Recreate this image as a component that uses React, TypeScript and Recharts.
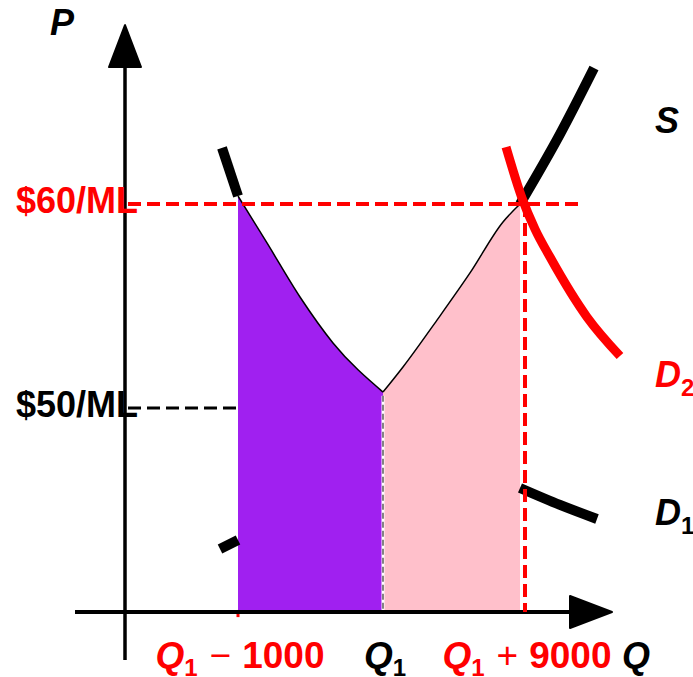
import {
  Area,
  ComposedChart,
  Line,
  ReferenceDot,
  ReferenceLine,
  XAxis,
  YAxis,
} from "recharts";

// schematic quantity units (y-axis at 0) and price in $/ML (x-axis at 40)
const D1_Q = [19.4, 22.6, 28.4, 35, 41.6, 51.6, 79, 87, 94.4];
const D1_P = [62.75, 60.39, 58.09, 55.44, 53.19, 50.78, 46.08, 45.25, 44.56];

const S_Q = [19, 22.6, 51.6, 55.6, 62.4, 69, 75.6, 79, 87, 93.8];
const S_P = [43.09, 43.53, 50.78, 52.01, 54.31, 56.62, 59.12, 60.0, 63.43, 66.67];

const D2_Q = [76.2, 79.4, 82, 85, 92.4, 99];
const D2_P = [62.79, 60.29, 58.77, 57.4, 54.46, 52.55];

const Q_LOW = 22.6; // Q1 - 1000
const Q1 = 51.6;
const Q_S60 = 79; // supply reaches $60
const Q_HIGH = 80; // Q1 + 9000
const P_HIGH = 60;
const P_LOW = 50;
const P_ORIGIN = 40;

const X_DOMAIN = [-25, 113.6];
const Y_DOMAIN = [36.814, 70];

const RED = "#ff0000";
const PURPLE = "#a020f0";
const PINK = "#ffc0cb";
const FONT = '"Liberation Sans", Arial, Helvetica, sans-serif';

const toPoints = (qs: number[], ps: number[]) => qs.map((q, i) => ({ q, p: ps[i] }));

const d1 = toPoints(D1_Q, D1_P);
const supply = toPoints(S_Q, S_P);
const d2 = toPoints(D2_Q, D2_P);

// thick pieces of the curves that stay outside the shading
const d1Left = d1.filter((d) => d.q <= Q_LOW);
const d1Right = d1.filter((d) => d.q >= Q_S60);
const sLeft = supply.filter((d) => d.q <= Q_LOW);
const sRight = supply.filter((d) => d.q >= Q_S60);

// shaded regions under each curve
const lossArea = d1.filter((d) => d.q >= Q_LOW && d.q <= Q1);
const gainArea = supply.filter((d) => d.q >= Q1 && d.q <= Q_S60);

const d1End = d1[d1.length - 1];
const sEnd = supply[supply.length - 1];
const d2End = d2[d2.length - 1];

const textProps = {
  fontFamily: FONT,
  fontSize: 36,
  fontWeight: "bold" as const,
};

function qLabel(color: string, op?: string, amount?: string) {
  return (props: any) => (
    <text x={props.cx + 2} y={props.cy + 56} textAnchor="middle" fill={color} {...textProps} fontSize={37}>
      <tspan fontStyle="italic">Q</tspan>
      <tspan fontSize={24} dy={8}>1</tspan>
      {op && (
        <tspan dy={-8} dx={12} fontWeight="normal">
          {op}
        </tspan>
      )}
      {amount && <tspan dx={11}>{amount}</tspan>}
    </text>
  );
}

function curveLabel(name: string, sub: string | null, color: string, dx: number, dy: number) {
  return (props: any) => (
    <text x={props.cx + dx} y={props.cy + dy} fill={color} {...textProps}>
      <tspan fontStyle="italic">{name}</tspan>
      {sub && (
        <tspan fontSize={24} dy={9}>
          {sub}
        </tspan>
      )}
    </text>
  );
}

function priceLabel(text: string, color: string) {
  return (props: any) => (
    <text x={props.cx + 13} y={props.cy + 9} textAnchor="end" fill={color} {...textProps}>
      {text}
    </text>
  );
}

const thick = (color: string, width: number) => ({
  type: "monotone" as const,
  stroke: color,
  strokeWidth: width,
  dot: false,
  activeDot: false,
  isAnimationActive: false,
});

export default function App() {
  return (
    <div style={{ position: "absolute", left: 0, top: 0, background: "#fff" }}>
      <ComposedChart
        width={693}
        height={677}
        margin={{ top: 0, right: 0, bottom: 0, left: 0 }}
        style={{ fontFamily: FONT }}
      >
        <XAxis type="number" dataKey="q" domain={X_DOMAIN} allowDataOverflow hide />
        <YAxis type="number" dataKey="p" domain={Y_DOMAIN} allowDataOverflow hide />

        {/* shaded regions, outlined along the curve */}
        <Area
          data={lossArea}
          dataKey="p"
          type="monotone"
          baseValue={P_ORIGIN}
          fill={PURPLE}
          fillOpacity={1}
          stroke="#000"
          strokeWidth={1.5}
          dot={false}
          activeDot={false}
          isAnimationActive={false}
        />
        <Area
          data={gainArea}
          dataKey="p"
          type="monotone"
          baseValue={P_ORIGIN}
          fill={PINK}
          fillOpacity={1}
          stroke="#000"
          strokeWidth={1.5}
          dot={false}
          activeDot={false}
          isAnimationActive={false}
        />

        {/* supply and original demand */}
        <Line data={sLeft} dataKey="p" {...thick("#000", 10)} />
        <Line data={sRight} dataKey="p" {...thick("#000", 10)} />
        <Line data={d1Left} dataKey="p" {...thick("#000", 10)} />
        <Line data={d1Right} dataKey="p" {...thick("#000", 10)} />

        {/* new demand */}
        <Line data={d2} dataKey="p" {...thick(RED, 9)} />

        {/* small red tick at Q1 - 1000 */}
        <ReferenceLine
          segment={[{ x: Q_LOW, y: 40.1 }, { x: Q_LOW, y: 39.75 }]}
          stroke={RED}
          strokeWidth={3}
        />

        {/* axes */}
        <ReferenceLine
          segment={[{ x: 0, y: 37.65 }, { x: 0, y: 66.9 }]}
          stroke="#000"
          strokeWidth={3.5}
        />
        <ReferenceLine
          segment={[{ x: -10, y: P_ORIGIN }, { x: 89.6, y: P_ORIGIN }]}
          stroke="#000"
          strokeWidth={4}
        />
        <ReferenceDot
          x={0}
          y={68.77}
          r={0}
          shape={(props: any) => (
            <polygon
              points={`${props.cx},${props.cy} ${props.cx - 16},${props.cy + 42} ${props.cx + 16},${props.cy + 42}`}
              fill="#000"
              stroke="#000"
              strokeWidth={2}
              strokeLinejoin="round"
            />
          )}
        />
        <ReferenceDot
          x={97.4}
          y={P_ORIGIN}
          r={0}
          shape={(props: any) => (
            <polygon
              points={`${props.cx},${props.cy} ${props.cx - 42},${props.cy - 16} ${props.cx - 42},${props.cy + 16}`}
              fill="#000"
              stroke="#000"
              strokeWidth={2}
              strokeLinejoin="round"
            />
          )}
        />

        {/* guide lines */}
        <ReferenceLine
          segment={[{ x: 0.6, y: P_LOW }, { x: Q_LOW - 0.3, y: P_LOW }]}
          stroke="#000"
          strokeWidth={3}
          strokeDasharray="13 6"
        />
        <ReferenceLine
          segment={[{ x: Q_HIGH, y: P_HIGH }, { x: Q_HIGH, y: P_ORIGIN }]}
          stroke={RED}
          strokeWidth={4}
          strokeDasharray="13 6"
        />
        <ReferenceLine
          segment={[{ x: Q1, y: 50.6 }, { x: Q1, y: 40.1 }]}
          stroke="#fff"
          strokeWidth={3}
        />
        <ReferenceLine
          segment={[{ x: Q1, y: 50.6 }, { x: Q1, y: 40.1 }]}
          stroke="#333"
          strokeWidth={1.2}
          strokeDasharray="6 3"
        />
        <ReferenceLine
          segment={[{ x: 0.6, y: P_HIGH }, { x: 91, y: P_HIGH }]}
          stroke={RED}
          strokeWidth={4}
          strokeDasharray="13 6"
        />

        {/* labels */}
        <ReferenceDot x={0} y={68.77} r={0} shape={curveLabel("P", null, "#000", -75, 10)} />
        <ReferenceDot x={97.4} y={P_ORIGIN} r={0} shape={curveLabel("Q", null, "#000", 10, 56)} />
        <ReferenceDot x={0} y={P_HIGH} r={0} shape={priceLabel("$60/ML", RED)} />
        <ReferenceDot x={0} y={P_LOW} r={0} shape={priceLabel("$50/ML", "#000")} />
        <ReferenceDot x={Q_LOW} y={P_ORIGIN} r={0} shape={qLabel(RED, "\u2212", "1000")} />
        <ReferenceDot x={Q1} y={P_ORIGIN} r={0} shape={qLabel("#000")} />
        <ReferenceDot x={Q_HIGH} y={P_ORIGIN} r={0} shape={qLabel(RED, "+", "9000")} />
        <ReferenceDot x={sEnd.q} y={sEnd.p} r={0} shape={curveLabel("S", null, "#000", 61, 65)} />
        <ReferenceDot x={d2End.q} y={d2End.p} r={0} shape={curveLabel("D", "2", RED, 35, 31)} />
        <ReferenceDot x={d1End.q} y={d1End.p} r={0} shape={curveLabel("D", "1", "#000", 58, 6)} />
      </ComposedChart>
    </div>
  );
}
